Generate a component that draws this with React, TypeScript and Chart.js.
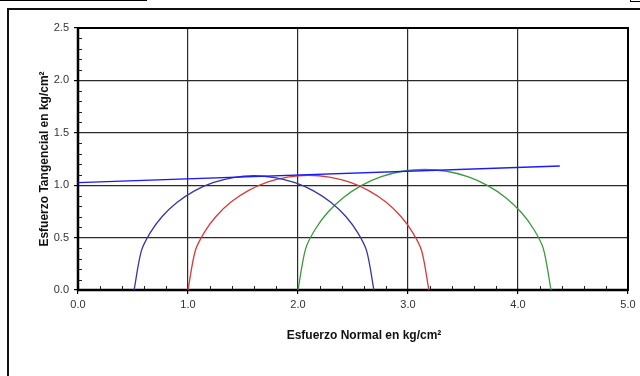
import React, { useEffect, useRef } from "react";
import { Chart, registerables } from "chart.js";

Chart.register(...registerables);

// ---- data ----
const xTickValues = [0, 1, 2, 3, 4, 5];
const xTickLabels = ["0.0", "1.0", "2.0", "3.0", "4.0", "5.0"];
const yTickValues = [0, 0.5, 1, 1.5, 2, 2.5];
const yTickLabels = ["0.0", "0.5", "1.0", "1.5", "2.0", "2.5"];

const envelopeX = [0, 4.38];
const envelopeY = [1.025, 1.183];

const circle1X = [0.51, 0.576, 0.656, 0.765, 0.899, 1.055, 1.227, 1.411, 1.6, 1.789, 1.973, 2.145, 2.301, 2.435, 2.544, 2.624, 2.69];
const circle1Y = [0, 0.373, 0.545, 0.701, 0.835, 0.944, 1.024, 1.073, 1.09, 1.073, 1.024, 0.944, 0.835, 0.701, 0.545, 0.373, 0];

const circle2X = [1.0, 1.066, 1.147, 1.256, 1.391, 1.548, 1.721, 1.905, 2.095, 2.285, 2.47, 2.643, 2.799, 2.934, 3.043, 3.124, 3.19];
const circle2Y = [0, 0.375, 0.548, 0.704, 0.839, 0.948, 1.029, 1.078, 1.095, 1.078, 1.029, 0.948, 0.839, 0.704, 0.548, 0.375, 0];

const circle3X = [2.0, 2.069, 2.154, 2.269, 2.411, 2.575, 2.757, 2.95, 3.15, 3.35, 3.543, 3.725, 3.889, 4.031, 4.146, 4.231, 4.3];
const circle3Y = [0, 0.393, 0.575, 0.739, 0.881, 0.996, 1.081, 1.133, 1.15, 1.133, 1.081, 0.996, 0.881, 0.739, 0.575, 0.393, 0];

const xTitle = "Esfuerzo Normal en kg/cm²";
const yTitle = "Esfuerzo Tangencial en kg/cm²";

const FONT = "'Liberation Sans', Arial, sans-serif";

const pts = (xs: number[], ys: number[]) => xs.map((x, i) => ({ x, y: ys[i] }));

const framePlugin = {
  id: "frameAndMinor",
  beforeDatasetsDraw(chart: any) {
    const { ctx, chartArea: a, scales } = chart;
    ctx.save();
    ctx.strokeStyle = "#222";
    ctx.lineWidth = 1;
    const xs = scales.x;
    const ys = scales.y;
    for (let i = 1; i < 25; i++) {
      if (i % 5 === 0) continue;
      const px = Math.round(xs.getPixelForValue(i * 0.2)) + 0.5;
      ctx.beginPath();
      ctx.moveTo(px, a.bottom);
      ctx.lineTo(px, a.bottom - 4);
      ctx.stroke();
    }
    for (let i = 1; i < 25; i++) {
      if (i % 5 === 0) continue;
      const py = Math.round(ys.getPixelForValue(i * 0.1)) + 0.5;
      ctx.beginPath();
      ctx.moveTo(a.left, py);
      ctx.lineTo(a.left + 4, py);
      ctx.stroke();
    }
    ctx.strokeStyle = "#000";
    ctx.lineWidth = 2;
    ctx.strokeRect(a.left, a.top, a.right - a.left, a.bottom - a.top);
    ctx.lineWidth = 2.5;
    ctx.beginPath();
    ctx.moveTo(a.left, a.top);
    ctx.lineTo(a.left, a.bottom);
    ctx.lineTo(a.right, a.bottom);
    ctx.stroke();
    ctx.restore();
  },
  afterDraw(chart: any) {
    const { ctx } = chart;
    ctx.save();
    ctx.fillStyle = "#111";
    ctx.font = `bold 12px ${FONT}`;
    ctx.textAlign = "center";
    ctx.textBaseline = "middle";
    ctx.fillText(xTitle, 364, 336);
    ctx.translate(45, 159);
    ctx.rotate(-Math.PI / 2);
    ctx.fillText(yTitle, 0, 0);
    ctx.restore();
  },
};

const circleStyle = (color: string) => ({
  showLine: true,
  borderColor: color,
  borderWidth: 1.3,
  pointRadius: 0,
  tension: 0.3,
});

export default function App() {
  const ref = useRef<HTMLCanvasElement>(null);
  useEffect(() => {
    if (!ref.current) return;
    const chart = new Chart(ref.current, {
      type: "scatter",
      data: {
        datasets: [
          {
            data: pts(envelopeX, envelopeY),
            showLine: true,
            borderColor: "#1a1aff",
            borderWidth: 1.3,
            pointRadius: 0,
          },
          { data: pts(circle1X, circle1Y), ...circleStyle("#3535a8") },
          { data: pts(circle2X, circle2Y), ...circleStyle("#d83a3a") },
          { data: pts(circle3X, circle3Y), ...circleStyle("#3a9a3a") },
        ],
      },
      options: {
        responsive: false,
        animation: false,
        devicePixelRatio: 1,
        layout: { padding: { left: 0, top: 28, right: 12, bottom: 0 } },
        plugins: { legend: { display: false }, tooltip: { enabled: false } },
        scales: {
          x: {
            type: "linear",
            min: 0,
            max: 5,
            afterBuildTicks: (s: any) => {
              s.ticks = xTickValues.map((v) => ({ value: v }));
            },
            afterFit: (s: any) => {
              s.height = 86;
            },
            ticks: {
              callback: (_v: any, i: number) => xTickLabels[i],
              font: { family: FONT, size: 11 },
              color: "#333",
              padding: 4,
              maxRotation: 0,
            },
            grid: {
              color: (c: any) => (c.tick && (c.tick.value === 0 || c.tick.value === 5) ? "rgba(0,0,0,0)" : "#2a2a2a"),
              tickColor: "#000",
              tickLength: 4,
              lineWidth: 1.2,
            },
            border: { display: false },
          },
          y: {
            type: "linear",
            min: 0,
            max: 2.5,
            afterBuildTicks: (s: any) => {
              s.ticks = yTickValues.map((v) => ({ value: v }));
            },
            afterFit: (s: any) => {
              s.width = 78;
            },
            ticks: {
              callback: (_v: any, i: number) => yTickLabels[i],
              font: { family: FONT, size: 11 },
              color: "#333",
              padding: 5,
            },
            grid: {
              color: (c: any) => (c.tick && (c.tick.value === 0 || c.tick.value === 2.5) ? "rgba(0,0,0,0)" : "#2a2a2a"),
              tickColor: "#000",
              tickLength: 4,
              lineWidth: 1.2,
            },
            border: { display: false },
          },
        },
      },
      plugins: [framePlugin],
    } as any);
    return () => chart.destroy();
  }, []);

  return (
    <div style={{ position: "fixed", left: 0, top: 0, width: 640, height: 376, overflow: "hidden", background: "#fff" }}>
      <div style={{ position: "absolute", left: 0, top: 0, width: 147, height: 1, background: "#000" }} />
      <div style={{ position: "absolute", left: 630, top: -10, width: 20, height: 10, border: "1px solid #000" }} />
      <div style={{ position: "absolute", left: 7, top: 8, width: 700, height: 500, borderLeft: "2px solid #111", borderTop: "2px solid #111" }} />
      <canvas ref={ref} width={640} height={376} style={{ position: "absolute", left: 0, top: 0, width: 640, height: 376 }} />
    </div>
  );
}
